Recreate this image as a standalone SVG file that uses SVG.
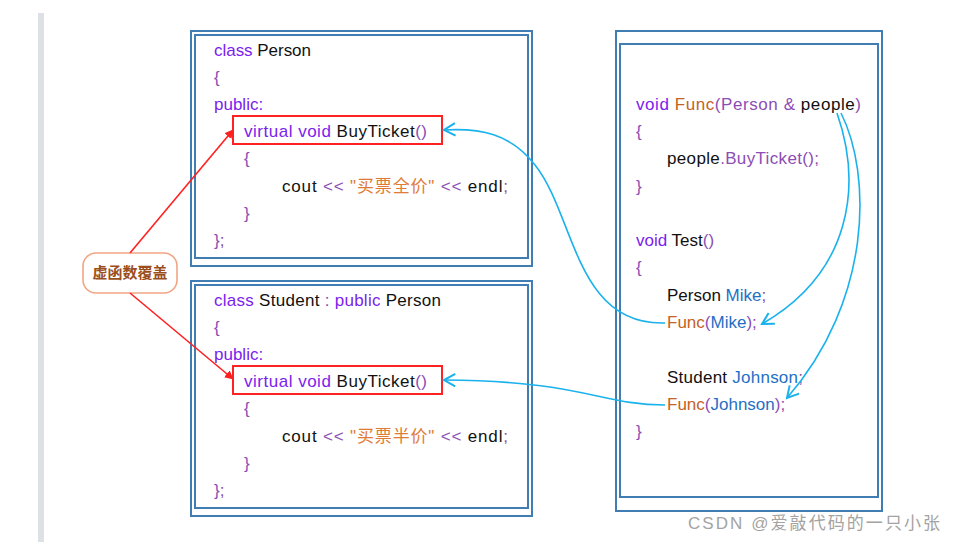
<svg xmlns="http://www.w3.org/2000/svg" width="955" height="542" viewBox="0 0 955 542">
<defs>
<style>
text{font-family:"Liberation Sans","Noto Sans CJK SC",sans-serif;font-size:17px;fill:#111}
.k{fill:#7b22ee}
.p{fill:#8c4db5}
.f{fill:#c4621f}
.s{fill:#e07b35}
.b{fill:#1f6fc5}
.box{fill:#fff;stroke:#3f7db3;stroke-width:2}
.hl{fill:none;stroke:#ff2222;stroke-width:2}
.red{fill:none;stroke:#ff2020;stroke-width:1.6}
.blue{fill:none;stroke:#1ab2ec;stroke-width:1.6}
.wm{font-size:17px;fill:#a3a3a3}
.lbl{font-size:15px;font-weight:bold;fill:#9a4e1c}
</style>
<marker id="ar" viewBox="0 0 10 10" refX="9" refY="5" markerWidth="9" markerHeight="9" orient="auto" markerUnits="userSpaceOnUse">
<path d="M0,0 L10,5 L0,10 z" fill="#ff2020"/>
</marker>
<marker id="ab" viewBox="0 0 12 12" refX="10" refY="6" markerWidth="15" markerHeight="15" orient="auto" markerUnits="userSpaceOnUse">
<path d="M1,1 L10,6 L1,11" fill="none" stroke="#1ab2ec" stroke-width="1.6"/>
</marker>
</defs>
<rect x="0" y="0" width="955" height="542" fill="#fff"/>
<rect x="38" y="13" width="6" height="529" fill="#dde1e6"/>

<g id="person-class">
<rect class="box" x="191" y="31" width="341" height="235"/>
<rect class="box" x="195" y="35" width="333" height="223"/>
<text x="214" y="56" textLength="97" lengthAdjust="spacing"><tspan class="k">class</tspan> <tspan>Person</tspan></text>
<text x="214" y="83" class="p">{</text>
<text x="214" y="110" class="k">public:</text>
<rect class="hl" x="233" y="116" width="209" height="28"/>
<text x="244" y="137" textLength="183" lengthAdjust="spacing"><tspan class="k">virtual void</tspan> <tspan>BuyTicket</tspan><tspan class="p">()</tspan></text>
<text x="244" y="164" class="p">{</text>
<text x="282" y="192" textLength="226" lengthAdjust="spacing"><tspan>cout</tspan> <tspan class="p">&lt;&lt;</tspan> <tspan class="s">"买票全价"</tspan> <tspan class="p">&lt;&lt;</tspan> <tspan>endl</tspan><tspan class="p">;</tspan></text>
<text x="244" y="219" class="p">}</text>
<text x="214" y="246" class="p">};</text>
</g>

<g id="student-class">
<rect class="box" x="191" y="281" width="341" height="235"/>
<rect class="box" x="195" y="285" width="333" height="223"/>
<text x="214" y="306" textLength="227" lengthAdjust="spacing"><tspan class="k">class</tspan> <tspan>Student</tspan> <tspan class="p">:</tspan> <tspan class="k">public</tspan> <tspan>Person</tspan></text>
<text x="214" y="333" class="p">{</text>
<text x="214" y="360" class="k">public:</text>
<rect class="hl" x="233" y="366" width="209" height="28"/>
<text x="244" y="387" textLength="183" lengthAdjust="spacing"><tspan class="k">virtual void</tspan> <tspan>BuyTicket</tspan><tspan class="p">()</tspan></text>
<text x="244" y="414" class="p">{</text>
<text x="282" y="442" textLength="226" lengthAdjust="spacing"><tspan>cout</tspan> <tspan class="p">&lt;&lt;</tspan> <tspan class="s">"买票半价"</tspan> <tspan class="p">&lt;&lt;</tspan> <tspan>endl</tspan><tspan class="p">;</tspan></text>
<text x="244" y="469" class="p">}</text>
<text x="214" y="496" class="p">};</text>
</g>

<g id="func-code">
<rect class="box" x="616" y="31" width="266" height="480"/>
<rect class="box" x="620" y="44" width="258" height="453"/>
<text x="636" y="110" textLength="225" lengthAdjust="spacing"><tspan class="k">void</tspan> <tspan class="f">Func</tspan><tspan class="p">(Person &amp;</tspan> <tspan>people</tspan><tspan class="p">)</tspan></text>
<text x="636" y="137" class="p">{</text>
<text x="667" y="164" textLength="152" lengthAdjust="spacing"><tspan>people</tspan><tspan class="p">.BuyTicket();</tspan></text>
<text x="636" y="192" class="p">}</text>
<text x="636" y="246"><tspan class="k">void</tspan> <tspan>Test</tspan><tspan class="p">()</tspan></text>
<text x="636" y="273" class="p">{</text>
<text x="667" y="301"><tspan>Person</tspan> <tspan class="b">Mike</tspan><tspan class="p">;</tspan></text>
<text x="667" y="328"><tspan class="f">Func</tspan><tspan class="p">(</tspan><tspan class="b">Mike</tspan><tspan class="p">);</tspan></text>
<text x="667" y="383" textLength="136" lengthAdjust="spacing"><tspan>Student</tspan> <tspan class="b">Johnson</tspan><tspan class="p">;</tspan></text>
<text x="667" y="410"><tspan class="f">Func</tspan><tspan class="p">(</tspan><tspan class="b">Johnson</tspan><tspan class="p">);</tspan></text>
<text x="636" y="437" class="p">}</text>
</g>

<g id="label-override">
<rect x="83" y="253" width="94" height="40" rx="13" fill="#fff" stroke="#f2a584" stroke-width="1.6"/>
<text x="130" y="278" class="lbl" text-anchor="middle">虚函数覆盖</text>
</g>

<g id="connectors">
<path class="red" d="M130,253 L233,130" marker-end="url(#ar)"/>
<path class="red" d="M130,293 L233,379" marker-end="url(#ar)"/>
<path class="blue" d="M665,323 C575,326 575,215 535,165 C510,133 480,128 444,130" marker-end="url(#ab)"/>
<path class="blue" d="M665,405 C600,405 585,381 444,380" marker-end="url(#ab)"/>
<path class="blue" d="M837,113 C862,185 852,272 762,324" marker-end="url(#ab)"/>
<path class="blue" d="M841,113 C872,175 872,300 787,398" marker-end="url(#ab)"/>
</g>

<text x="688" y="529" class="wm" textLength="252" lengthAdjust="spacing">CSDN @爱敲代码的一只小张</text>
</svg>
